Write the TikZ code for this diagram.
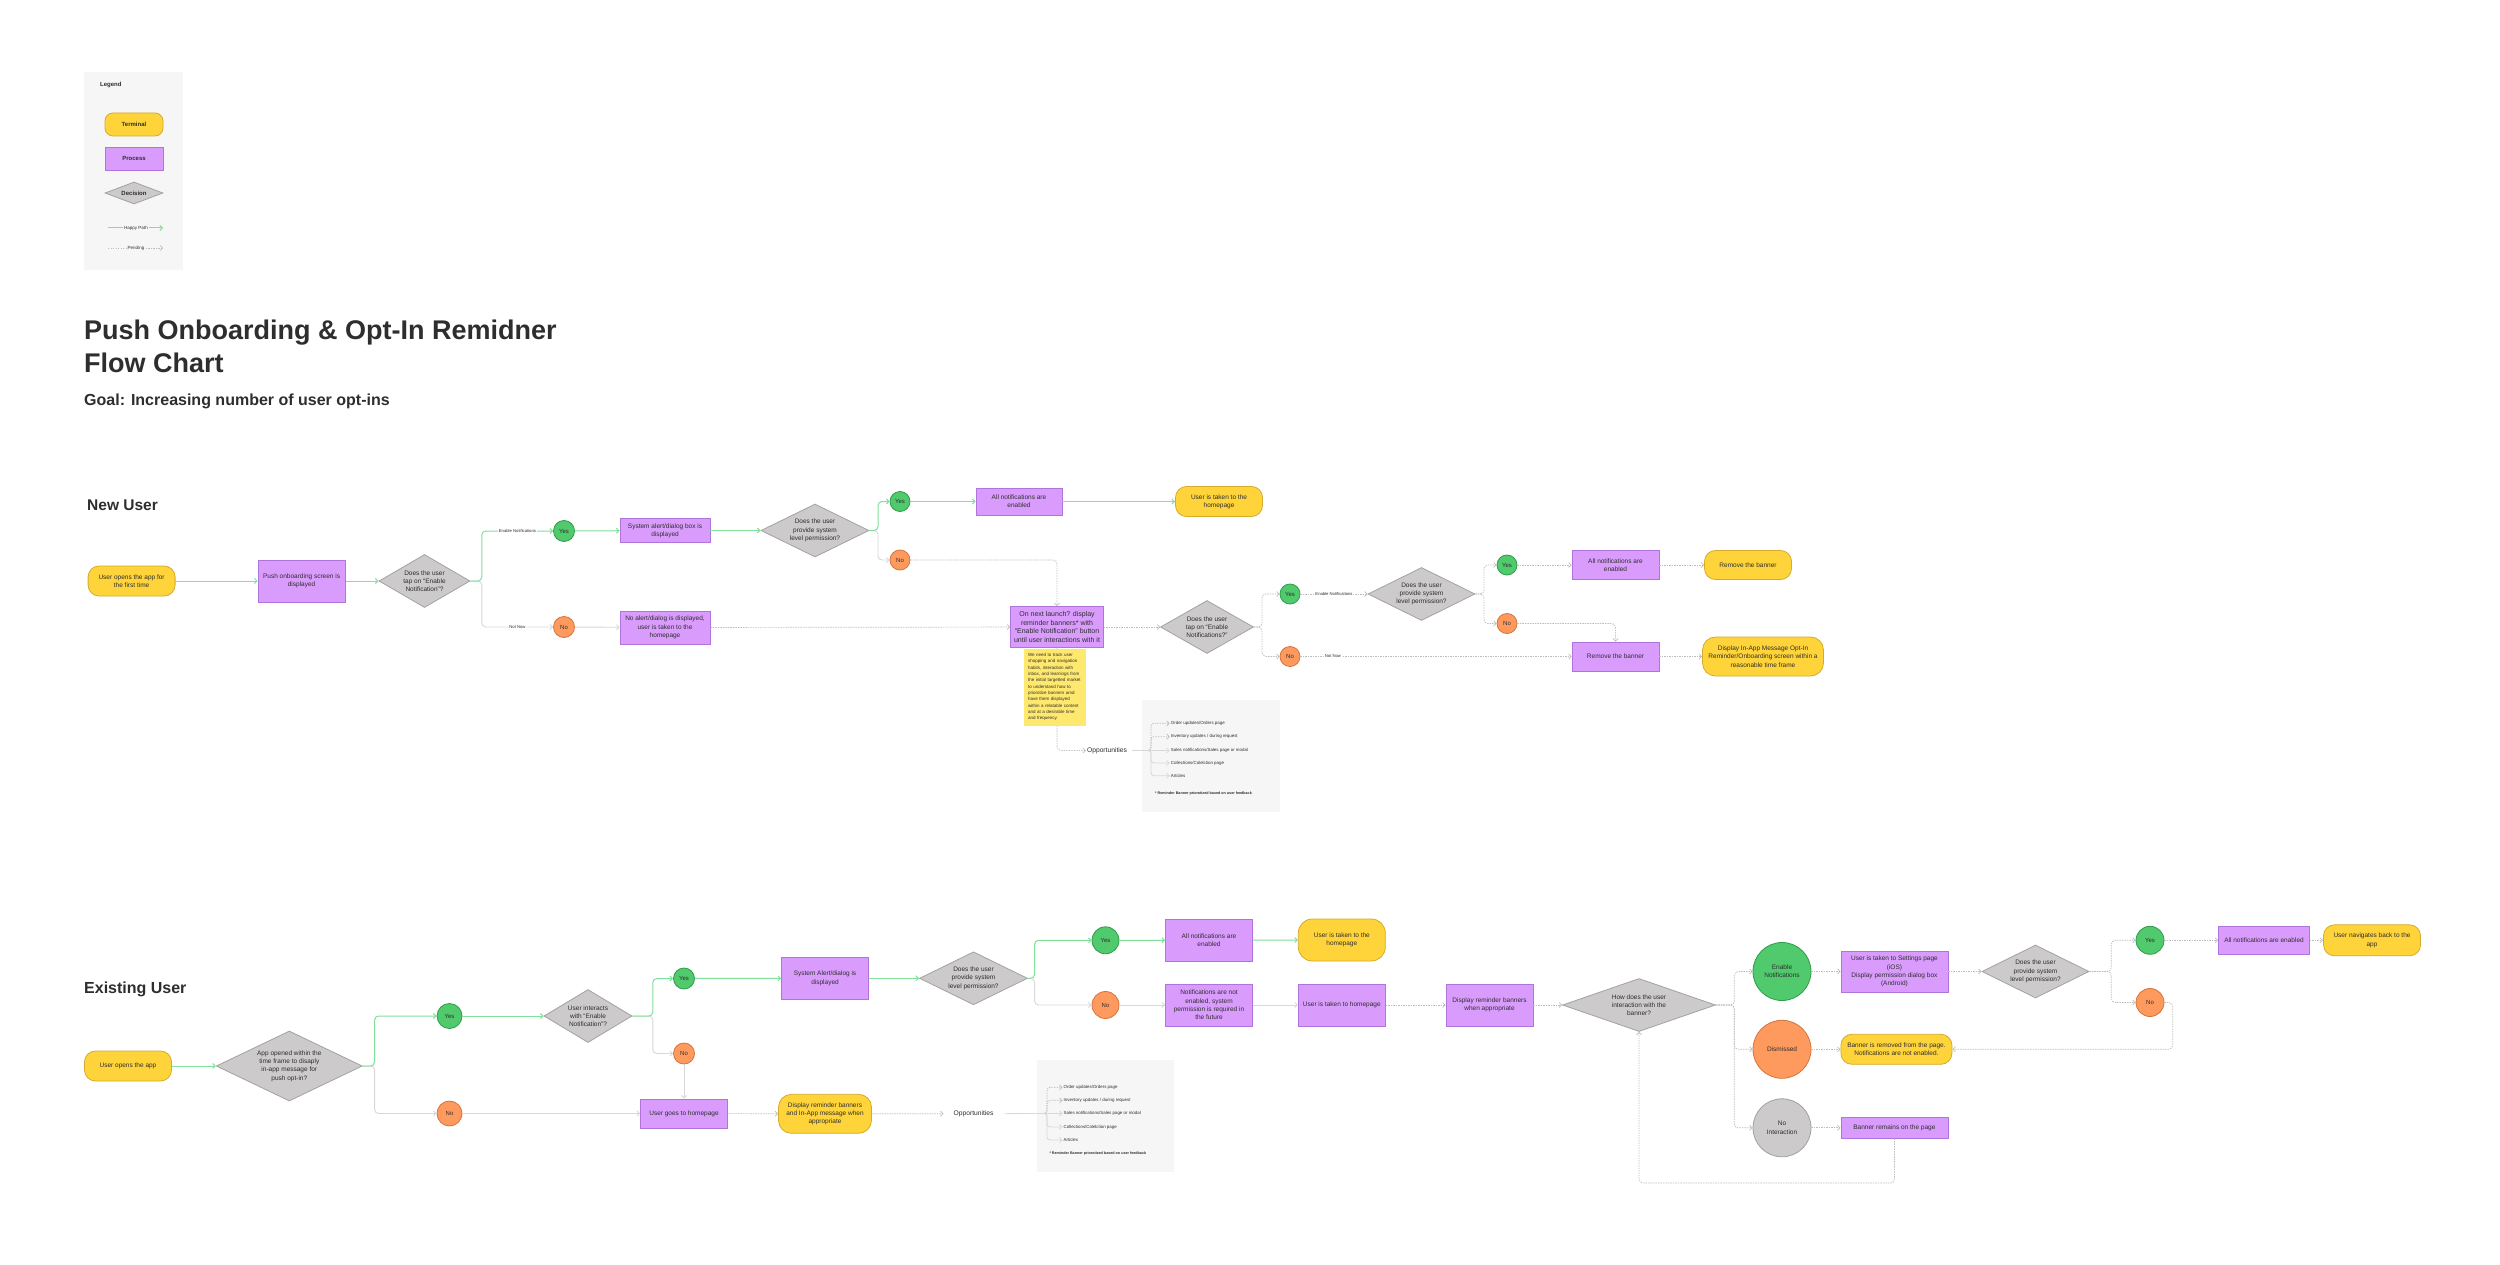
\documentclass[tikz,border=0pt]{standalone}
\usepackage{fontspec}
\setmainfont{Liberation Sans}
\usetikzlibrary{arrows.meta,shapes.geometric}
\definecolor{termfill}{HTML}{FFD43A}
\definecolor{termdraw}{HTML}{D6AA2A}
\definecolor{procfill}{HTML}{D99CFD}
\definecolor{procdraw}{HTML}{B173DC}
\definecolor{decfill}{HTML}{CCCACB}
\definecolor{decdraw}{HTML}{A2A2A2}
\definecolor{yesfill}{HTML}{50CA6C}
\definecolor{yesdraw}{HTML}{2E9C4A}
\definecolor{nofill}{HTML}{FF9A5E}
\definecolor{nodraw}{HTML}{D6733A}
\definecolor{nointfill}{HTML}{CCCACB}
\definecolor{nointdraw}{HTML}{A0A0A0}
\definecolor{happyc}{HTML}{80E09C}
\definecolor{grayc}{HTML}{D8D8D8}
\definecolor{pendc}{HTML}{BDBDBD}
\definecolor{panel}{HTML}{F6F6F6}
\definecolor{stickyc}{HTML}{FFE86E}
\definecolor{txt}{HTML}{2E2E2E}
\newcommand{\fsz}[2]{\fontsize{#1}{#2}\selectfont}
\begin{document}
\begin{tikzpicture}[x=1pt,y=-1pt,
  nbase/.style={font=\fsz{6.5}{8.3}, align=center, text=txt, inner sep=1pt, line width=0.8pt},
  term/.style={nbase, draw=termdraw, fill=termfill, rounded corners=11pt},
  proc/.style={nbase, draw=procdraw, fill=procfill},
  dec/.style={diamond, draw=decdraw, fill=decfill, inner sep=0pt, line width=0.8pt},
  dtext/.style={font=\fsz{6.5}{8.3}, align=center, text=txt, inner sep=0pt},
  yesc/.style={nbase, circle, draw=yesdraw, fill=yesfill, inner sep=0.5pt, font=\fsz{6}{7}},
  noc/.style={nbase, circle, draw=nodraw, fill=nofill, inner sep=0.5pt, font=\fsz{6}{7}},
  arrowtip/.style={-{Straight Barb[length=2.5pt,width=5pt]}},
  happy/.style={draw=happyc, line width=1pt, arrowtip, rounded corners=4pt},
  solidg/.style={draw=grayc, line width=0.9pt, arrowtip, rounded corners=4pt},
  pend/.style={draw=pendc, line width=0.7pt, dash pattern=on 1.4pt off 1.1pt, arrowtip, rounded corners=4pt},
  lbl/.style={font=\fsz{4.2}{5}, fill=white, inner sep=1pt, text=txt},
  oppitem/.style={font=\fsz{4.4}{5.5}, text=txt, inner sep=1pt, anchor=west},
  foot/.style={font=\bfseries\fsz{3.7}{4.5}, text=txt, inner sep=0pt, anchor=west},
  oppt/.style={font=\fsz{6.7}{8}, text=txt, inner sep=1pt},
  heading/.style={text=txt, inner sep=0pt, anchor=base west},
]
\useasboundingbox (0,0) rectangle (2500,1265);
\fill[white] (0,0) rectangle (2500,1265);

% ---------- Legend ----------
\node[fill=panel, minimum width=99pt, minimum height=198pt, anchor=north west, inner sep=0pt] (legendbg) at (84,72) {};
\node[font=\bfseries\fsz{6}{7}, text=txt, anchor=west, inner sep=0pt] (legendt) at (100,85) {Legend};
\node[term, rounded corners=8pt, minimum width=58pt, minimum height=23pt, font=\bfseries\fsz{6}{7}] (lgTerm) at (134,124.5) {Terminal};
\node[proc, minimum width=58pt, minimum height=23pt, font=\bfseries\fsz{6}{7}] (lgProc) at (134,158.5) {Process};
\node[dec, minimum width=58pt, minimum height=22pt, label={[dtext, font=\bfseries\fsz{6}{7}]center:Decision}] (lgDec) at (134,193) {};
\node[font=\fsz{4.5}{5}, text=txt, inner sep=1.5pt] (lgHappy) at (136,228) {Happy Path};
\coordinate (lgH0) at (108,228);
\coordinate (lgH1) at (163,228);
\draw[draw=happyc, line width=1pt] (lgH0) -- (lgHappy.west);
\draw[happy] (lgHappy.east) -- (lgH1);
\node[font=\fsz{4.5}{5}, text=txt, inner sep=1.5pt] (lgPend) at (136,248) {Pending};
\coordinate (lgP0) at (108,248);
\coordinate (lgP1) at (163,248);
\draw[draw=pendc, line width=0.7pt, dash pattern=on 1.4pt off 1.1pt] (lgP0) -- (lgPend.west);
\draw[pend] (lgPend.east) -- (lgP1);

% ---------- Titles ----------
\node[heading, font=\bfseries\fsz{27}{33}] (title1) at (84,339) {Push Onboarding \& Opt-In Remidner};
\node[heading, font=\bfseries\fsz{27}{33}] (title2) at (84,372.5) {Flow Chart};
\node[heading, font=\bfseries\fsz{16}{19}] (goal) at (84,405.5) {Goal: Increasing number of user opt-ins};
\node[heading, font=\bfseries\fsz{15.5}{18}] (hNew) at (87,510.5) {New User};
\node[heading, font=\bfseries\fsz{16}{19}] (hExist) at (84,993.5) {Existing User};

% ---------- New User nodes ----------
\node[term, minimum width=87pt, minimum height=30pt] (nStart) at (131.6,581) {User opens the app for\\the first time};
\node[proc, minimum width=87pt, minimum height=42pt] (nPush) at (301.6,581) {Push onboarding screen is\\displayed};
\node[dec, minimum width=91pt, minimum height=53pt, label={[dtext]center:Does the user\\tap on “Enable\\Notification”?}] (nD1) at (424.5,581) {};
\node[yesc, minimum size=21pt] (nYes1) at (564,531) {Yes};
\node[noc, minimum size=21pt] (nNo1) at (564,627) {No};
\node[proc, minimum width=90pt, minimum height=24pt] (nSys) at (665,530.5) {System alert/dialog box is\\displayed};
\node[proc, minimum width=90pt, minimum height=33pt] (nNoAlert) at (665,627.5) {No alert/dialog is displayed,\\user is taken to the\\homepage};
\node[dec, minimum width=108pt, minimum height=53pt, label={[dtext]center:Does the user\\provide system\\level permission?}] (nD2) at (815,530.5) {};
\node[yesc, minimum size=20pt] (nYes2) at (900,501.5) {Yes};
\node[noc, minimum size=20pt] (nNo2) at (900,560) {No};
\node[proc, minimum width=86pt, minimum height=27pt] (nAll1) at (1019,501.5) {All notifications are\\enabled};
\node[term, minimum width=87pt, minimum height=30pt] (nHome1) at (1219,501.5) {User is taken to the\\homepage};
\node[proc, minimum width=93pt, minimum height=41pt, font=\fsz{7}{8.6}] (nNext) at (1057,627) {On next launch? display\\reminder banners* with\\“Enable Notification” button\\until user interactions with it};
\node[dec, minimum width=93pt, minimum height=53pt, label={[dtext]center:Does the user\\tap on “Enable\\Notifications?”}] (nD3) at (1207,627) {};
\node[yesc, minimum size=20pt] (nYes3) at (1290,594) {Yes};
\node[noc, minimum size=20pt] (nNo3) at (1290,656.5) {No};
\node[dec, minimum width=107pt, minimum height=53pt, label={[dtext]center:Does the user\\provide system\\level permission?}] (nD4) at (1421.5,594) {};
\node[yesc, minimum size=20pt] (nYes4) at (1507,565) {Yes};
\node[noc, minimum size=20pt] (nNo4) at (1507,623.5) {No};
\node[proc, minimum width=87pt, minimum height=29pt] (nAll2) at (1615.5,565) {All notifications are\\enabled};
\node[term, minimum width=87pt, minimum height=29pt] (nRem1) at (1748,565) {Remove the banner};
\node[proc, minimum width=87pt, minimum height=29pt] (nRem2) at (1615.5,656.5) {Remove the banner};
\node[term, minimum width=121pt, minimum height=39pt, rounded corners=13pt] (nInApp) at (1763,656.5) {Display In-App Message Opt-In\\Reminder/Onboarding screen within a\\reasonable time frame};

% Opportunities (new user)
\node[fill=panel, minimum width=138.3pt, minimum height=111.7pt, anchor=north west, inner sep=0pt] (nOppBox) at (1141.7,700) {};
\node[oppt] (nOpp) at (1107,750.5) {Opportunities};
\node[oppitem] (nIt1) at (1169.7,723.3) {Order updates/Orders page};
\node[oppitem] (nIt2) at (1169.7,736.7) {Inventory updates / during request};
\node[oppitem] (nIt3) at (1169.7,750.5) {Sales notifications/Sales page or modal};
\node[oppitem] (nIt4) at (1169.7,763) {Collections/Colelction page};
\node[oppitem] (nIt5) at (1169.7,775.7) {Articles};
\node[foot] (nFoot) at (1155,793.7) {* Reminder Banner priorotized based on user feedback};

% ---------- New User connectors ----------
\coordinate (nB1) at (481.8,581);
\coordinate (nB2) at (878,530.5);
\coordinate (nB3) at (1262,627);
\coordinate (nB4) at (1484,594);
\coordinate (nJ) at (1144,750.5);
\draw[happy] (nStart) -- (nPush);
\draw[happy] (nPush) -- (nD1);
\draw[solidg] (nD1.east) -- (nB1) |- (nNo1.west) node[lbl, pos=0.75] (lNot1) {Not Now};
\draw[happy] (nD1.east) -- (nB1) |- (nYes1.west) node[lbl, pos=0.75] (lEn1) {Enable Notifications};
\draw[happy] (nYes1) -- (nSys);
\draw[solidg] (nNo1) -- (nNoAlert);
\draw[happy] (nSys) -- (nD2);
\draw[solidg] (nD2.east) -- (nB2) |- (nNo2.west);
\draw[happy] (nD2.east) -- (nB2) |- (nYes2.west);
\draw[happy] (nYes2) -- (nAll1);
\draw[happy] (nAll1) -- (nHome1);
\draw[pend] (nNo2.east) -| (nNext.north);
\draw[pend] (nNoAlert) -- (nNext);
\draw[pend] (nNext) -- (nD3);
\draw[pend] (nD3.east) -- (nB3) |- (nYes3.west);
\draw[pend] (nD3.east) -- (nB3) |- (nNo3.west);
\draw[pend] (nYes3) -- (nD4) node[lbl, midway] (lEn2) {Enable Notifications};
\draw[pend] (nD4.east) -- (nB4) |- (nYes4.west);
\draw[pend] (nD4.east) -- (nB4) |- (nNo4.west);
\draw[pend] (nYes4) -- (nAll2);
\draw[pend] (nAll2) -- (nRem1);
\draw[pend] (nNo4.east) -| (nRem2.north);
\draw[pend] (nNo3) -- (nRem2) node[lbl, pos=0.12] (lNot2) {Not Now};
\draw[pend] (nRem2) -- (nInApp);
\draw[pend] (nNext.south) |- (nOpp.west);
\draw[draw=grayc, line width=0.8pt, shorten <=4pt] (nOpp.east) -- (nJ);
\draw[pend, rounded corners=3pt] (nJ) -- ++(7,0) |- (nIt1.west);
\draw[pend, rounded corners=3pt] (nJ) -- ++(7,0) |- (nIt2.west);
\draw[solidg, line width=0.8pt] (nJ) -- (nIt3.west);
\draw[solidg, line width=0.8pt, rounded corners=3pt] (nJ) -- ++(7,0) |- (nIt4.west);
\draw[solidg, line width=0.8pt, rounded corners=3pt] (nJ) -- ++(7,0) |- (nIt5.west);

% sticky note (over the line)
\node[fill=stickyc, text width=54pt, inner sep=4pt, minimum height=77pt, anchor=north, font=\fsz{4.5}{6.3}, text=txt, align=left] (nSticky) at (1055,648.3) {We need to track user\\shopping and navigation\\habits, interaction with\\inbox, and learnings from\\the initial targetted market\\to understand how to\\priorotize banners amd\\have them displayed\\within a relatable content\\and at a desirable time\\and frequency.};

% ---------- Existing User nodes ----------
\node[term, minimum width=87pt, minimum height=30pt] (eStart) at (128,1066) {User opens the app};
\node[dec, minimum width=146pt, minimum height=70pt, label={[dtext]center:App opened within the\\time frame to disaply\\in-app message for\\push opt-in?}] (eD1) at (289.3,1066) {};
\node[yesc, minimum size=25pt] (eYes1) at (449.5,1016) {Yes};
\node[noc, minimum size=25pt] (eNo1) at (449.5,1113.5) {No};
\node[dec, minimum width=88pt, minimum height=53pt, label={[dtext]center:User interacts\\with “Enable\\Notification”?}] (eD2) at (588,1016) {};
\node[yesc, minimum size=21pt] (eYes2) at (684,978.5) {Yes};
\node[noc, minimum size=21pt] (eNo2) at (684,1053.5) {No};
\node[proc, minimum width=87pt, minimum height=29pt] (eHome) at (684,1113.5) {User goes to homepage};
\node[term, minimum width=93pt, minimum height=39pt, rounded corners=13pt] (eInApp) at (825,1113.8) {Display reminder banners\\and In-App message when\\appropriate};
\node[oppt] (eOpp) at (973.6,1113.7) {Opportunities};
\node[fill=panel, minimum width=137.6pt, minimum height=111.7pt, anchor=north west, inner sep=0pt] (eOppBox) at (1036.4,1060) {};
\node[oppitem] (eIt1) at (1062.5,1087.3) {Order updates/Orders page};
\node[oppitem] (eIt2) at (1062.5,1100.3) {Inventory updates / during request};
\node[oppitem] (eIt3) at (1062.5,1113.5) {Sales notifications/Sales page or modal};
\node[oppitem] (eIt4) at (1062.5,1127) {Collections/Colelction page};
\node[oppitem] (eIt5) at (1062.5,1140) {Articles};
\node[foot] (eFoot) at (1049.3,1154) {* Reminder Banner priorotized based on user feedback};

\node[proc, minimum width=87pt, minimum height=42pt] (eSys) at (825,978.3) {System Alert/dialog is\\displayed};
\node[dec, minimum width=108pt, minimum height=53pt, label={[dtext]center:Does the user\\provide system\\level permission?}] (eD3) at (973.5,978.3) {};
\node[yesc, minimum size=27pt] (eYes3) at (1105.5,940.3) {Yes};
\node[noc, minimum size=27pt] (eNo3) at (1105.5,1005) {No};
\node[proc, minimum width=87pt, minimum height=42pt] (eAll) at (1209,940.2) {All notifications are\\enabled};
\node[proc, minimum width=87pt, minimum height=42pt] (eNotEn) at (1209,1005) {Notifications are not\\enabled, system\\permission is required in\\the future};
\node[term, minimum width=87pt, minimum height=42pt, rounded corners=14pt] (eHomeT) at (1341.8,940) {User is taken to the\\homepage};
\node[proc, minimum width=87pt, minimum height=42pt] (eHomeP) at (1341.8,1005) {User is taken to homepage};
\node[proc, minimum width=87pt, minimum height=42pt] (eRemind) at (1489.5,1005) {Display reminder banners\\when appropriate};
\node[dec, minimum width=153pt, minimum height=53pt, label={[dtext]center:How does the user\\interaction with the\\banner?}] (eD4) at (1639,1005) {};
\node[nbase, circle, draw=yesdraw, fill=yesfill, minimum size=58pt] (eEnable) at (1782,971.5) {Enable\\Notifications};
\node[nbase, circle, draw=nodraw, fill=nofill, minimum size=58pt] (eDism) at (1782,1049.3) {Dismissed};
\node[nbase, circle, draw=nointdraw, fill=nointfill, minimum size=58pt] (eNoInt) at (1782,1127.8) {No\\Interaction};
\node[proc, minimum width=107pt, minimum height=41pt] (eSettings) at (1894.4,971.5) {User is taken to Settings page\\(iOS)\\Display permission dialog box\\(Android)};
\node[dec, minimum width=107pt, minimum height=53pt, label={[dtext]center:Does the user\\provide system\\level permission?}] (eD5) at (2035.5,971.5) {};
\node[yesc, minimum size=28pt] (eYes5) at (2150,940.3) {Yes};
\node[noc, minimum size=28pt] (eNo5) at (2150,1002.5) {No};
\node[proc, minimum width=91pt, minimum height=28pt] (eAll2) at (2264,940.3) {All notifications are enabled};
\node[term, minimum width=97pt, minimum height=31pt] (eBack) at (2372,940.3) {User navigates back to the\\app};
\node[term, minimum width=111pt, minimum height=30pt] (eRemoved) at (1896.4,1049.3) {Banner is removed from the page.\\Notifications are not enabled.};
\node[proc, minimum width=107pt, minimum height=21pt] (eRemains) at (1894.4,1127.8) {Banner remains on the page};

% ---------- Existing User connectors ----------
\coordinate (eB1) at (374.6,1066);
\coordinate (eB2) at (652.8,1016);
\coordinate (eB3) at (1034.6,978.3);
\coordinate (eB4) at (1734.3,1005);
\coordinate (eB5) at (2111.3,971.5);
\coordinate (eC5) at (2172.7,1002.5);
\coordinate (eLoop) at (1639,1183);
\coordinate (eJ) at (1040,1113.5);
\draw[happy] (eStart) -- (eD1);
\draw[solidg] (eD1.east) -- (eB1) |- (eNo1.west);
\draw[happy] (eD1.east) -- (eB1) |- (eYes1.west);
\draw[happy] (eYes1) -- (eD2);
\draw[solidg] (eNo1) -- (eHome);
\draw[solidg] (eD2.east) -- (eB2) |- (eNo2.west);
\draw[happy] (eD2.east) -- (eB2) |- (eYes2.west);
\draw[solidg] (eNo2) -- (eHome);
\draw[happy] (eYes2) -- (eSys);
\draw[happy] (eSys) -- (eD3);
\draw[solidg] (eD3.east) -- (eB3) |- (eNo3.west);
\draw[happy] (eD3.east) -- (eB3) |- (eYes3.west);
\draw[happy] (eYes3) -- (eAll);
\draw[solidg] (eNo3) -- (eNotEn);
\draw[happy] (eAll) -- (eHomeT);
\draw[solidg] (eNotEn) -- (eHomeP);
\draw[pend] (eHomeP) -- (eRemind);
\draw[pend] (eRemind) -- (eD4);
\draw[pend] (eD4.east) -- (eB4) |- (eEnable.west);
\draw[pend] (eD4.east) -- (eB4) |- (eDism.west);
\draw[pend] (eD4.east) -- (eB4) |- (eNoInt.west);
\draw[pend] (eEnable) -- (eSettings);
\draw[pend] (eDism) -- (eRemoved);
\draw[pend] (eNoInt) -- (eRemains);
\draw[pend] (eSettings) -- (eD5);
\draw[pend] (eD5.east) -- (eB5) |- (eYes5.west);
\draw[pend] (eD5.east) -- (eB5) |- (eNo5.west);
\draw[pend] (eYes5) -- (eAll2);
\draw[pend] (eAll2) -- (eBack);
\draw[pend] (eNo5.east) -- (eC5) |- (eRemoved.east);
\draw[pend] (eRemains.south) |- (eLoop) -- (eD4.south);
\draw[pend] (eHome) -- (eInApp);
\draw[pend, shorten >=9pt] (eInApp) -- (eOpp);
\draw[draw=grayc, line width=0.8pt, shorten <=10pt] (eOpp.east) -- (eJ);
\draw[pend, rounded corners=3pt] (eJ) -- ++(7,0) |- (eIt1.west);
\draw[pend, rounded corners=3pt] (eJ) -- ++(7,0) |- (eIt2.west);
\draw[solidg, line width=0.8pt] (eJ) -- (eIt3.west);
\draw[solidg, line width=0.8pt, rounded corners=3pt] (eJ) -- ++(7,0) |- (eIt4.west);
\draw[solidg, line width=0.8pt, rounded corners=3pt] (eJ) -- ++(7,0) |- (eIt5.west);
\end{tikzpicture}
\end{document}
